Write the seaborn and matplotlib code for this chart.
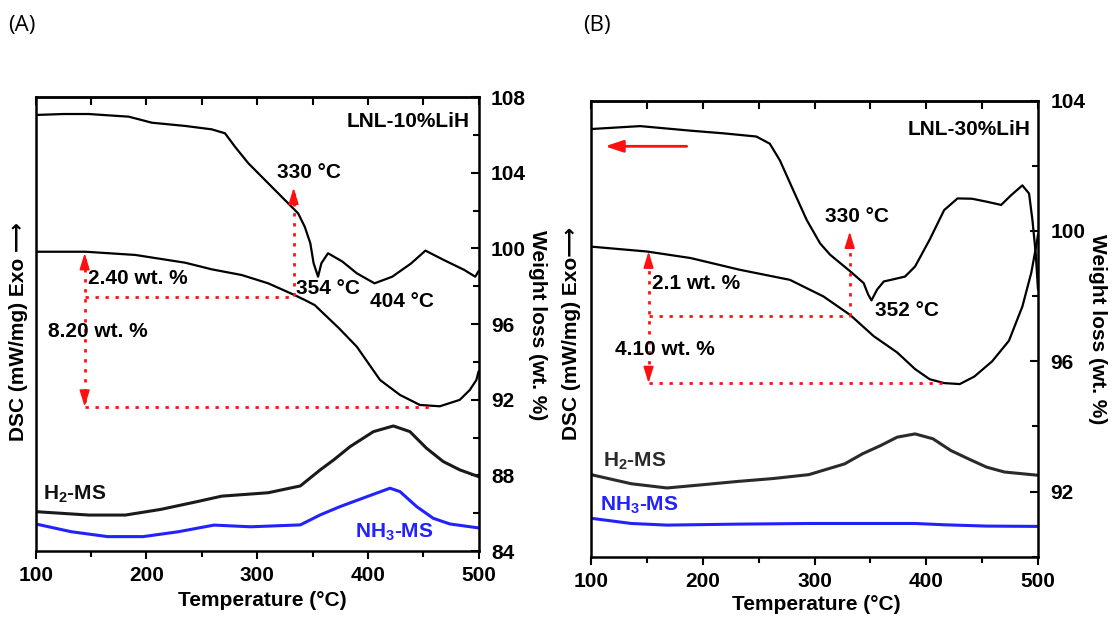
import matplotlib
matplotlib.use("Agg")
import matplotlib.pyplot as plt
import seaborn as sns
import pandas as pd
from matplotlib.ticker import MultipleLocator

# ---------------- data (panel A: LNL-10%LiH) ----------------
a_dsc_t = [100, 125, 148, 184, 205, 235, 259, 271, 280, 292, 310, 328, 337, 343, 348, 351,
           355, 358, 364, 377, 390, 406, 422, 439, 452, 468, 487, 497, 500]
a_dsc_v = [107.05, 107.10, 107.10, 106.96, 106.64, 106.47, 106.29, 106.08, 105.37, 104.50,
           103.44, 102.38, 101.85, 101.14, 100.27, 99.21, 98.50, 99.21, 99.74, 99.30, 98.68,
           98.15, 98.50, 99.20, 99.88, 99.40, 98.86, 98.50, 98.80]
a_tga_t = [100, 145, 190, 235, 259, 286, 310, 333, 343, 352, 374, 390, 411, 429, 447, 465,
           483, 492, 498, 500]
a_tga_v = [99.82, 99.82, 99.65, 99.24, 98.89, 98.59, 98.15, 97.55, 97.27, 97.00, 95.77, 94.80,
           93.04, 92.25, 91.72, 91.65, 91.99, 92.51, 93.04, 93.50]
a_h2_t = [100, 148, 181, 213, 245, 268, 310, 339, 357, 369, 384, 405, 423, 438, 453, 468, 483, 500]
a_h2_v = [86.08, 85.90, 85.90, 86.20, 86.60, 86.90, 87.08, 87.44, 88.29, 88.81, 89.52, 90.31,
          90.61, 90.31, 89.43, 88.73, 88.29, 87.93]
a_nh3_t = [100, 132, 165, 197, 229, 261, 294, 339, 357, 375, 399, 420, 429, 444, 459, 474, 500]
a_nh3_v = [85.43, 85.02, 84.76, 84.76, 85.02, 85.37, 85.28, 85.38, 85.91, 86.35, 86.87, 87.32,
           87.14, 86.35, 85.73, 85.43, 85.22]

# ---------------- data (panel B: LNL-30%LiH) ----------------
b_dsc_t = [100, 144, 189, 218, 248, 260, 269, 281, 293, 305, 314, 332, 344, 348, 351, 356, 362,
           371, 381, 390, 403, 416, 428, 441, 454, 467, 476, 486, 492, 495, 498, 500]
b_dsc_v = [103.13, 103.22, 103.08, 103.00, 102.90, 102.68, 102.17, 101.25, 100.34, 99.62, 99.27,
           98.76, 98.40, 98.05, 97.87, 98.20, 98.45, 98.52, 98.60, 98.91, 99.73, 100.64, 101.00,
           100.99, 100.90, 100.80, 101.10, 101.40, 101.15, 100.34, 99.30, 98.20]
b_tga_t = [100, 150, 189, 233, 278, 308, 332, 353, 374, 390, 403, 416, 430, 443, 459, 474,
           486, 494, 499, 500]
b_tga_v = [99.52, 99.37, 99.17, 98.81, 98.50, 97.99, 97.42, 96.77, 96.27, 95.76, 95.45, 95.33,
           95.30, 95.53, 96.00, 96.63, 97.68, 98.72, 99.66, 99.90]
b_h2_t = [100, 136, 168, 200, 231, 263, 295, 327, 343, 359, 374, 390, 406, 422, 438, 454, 470, 500]
b_h2_v = [92.52, 92.24, 92.11, 92.21, 92.31, 92.40, 92.52, 92.85, 93.16, 93.41, 93.67, 93.77,
          93.62, 93.26, 93.00, 92.75, 92.60, 92.50]
b_nh3_t = [100, 136, 168, 231, 295, 390, 416, 454, 500]
b_nh3_v = [91.18, 91.02, 90.97, 91.00, 91.02, 91.02, 90.98, 90.94, 90.93]

x_ticks = [100, 200, 300, 400, 500]

# ---------------- style ----------------
sns.set_theme(style="ticks")
plt.rcParams["font.family"] = ["Liberation Sans", "DejaVu Sans"]
plt.rcParams["font.weight"] = "bold"
plt.rcParams["axes.labelweight"] = "bold"
plt.rcParams["text.color"] = "black"
plt.rcParams["axes.labelcolor"] = "black"
plt.rcParams["xtick.color"] = "black"
plt.rcParams["ytick.color"] = "black"
plt.rcParams["mathtext.fontset"] = "custom"
plt.rcParams["mathtext.rm"] = "Liberation Sans:bold"
plt.rcParams["mathtext.it"] = "Liberation Sans:bold"
plt.rcParams["mathtext.bf"] = "Liberation Sans:bold"

W, H = 1114, 621
fig = plt.figure(figsize=(W / 100, H / 100), dpi=100)
fig.patch.set_facecolor("white")


def fx(px):
    return px / W


def fy(py):
    return 1 - py / H


axA = fig.add_axes([fx(35.7), fy(551), fx(478.6) - fx(35.7), fy(97) - fy(551)])
axB = fig.add_axes([fx(591), fy(556.7), fx(1038) - fx(591), fy(100.7) - fy(556.7)])

RED = "#ff1010"
BLUE = "#2222ff"
FS = 15


def line(ax, t, v, color, lw):
    df = pd.DataFrame({"T": t, "v": v})
    sns.lineplot(data=df, x="T", y="v", ax=ax, color=color, lw=lw, sort=False, estimator=None)


def style(ax, ylim, major):
    ax.set_xlim(100, 500)
    ax.set_ylim(*ylim)
    ax.set_xlabel("")
    ax.set_ylabel("")
    ax.set_xticks(x_ticks)
    ax.xaxis.set_minor_locator(MultipleLocator(50))
    ax.yaxis.set_major_locator(MultipleLocator(major))
    ax.yaxis.set_minor_locator(MultipleLocator(major / 2))
    ax.yaxis.tick_right()
    ax.tick_params(axis="x", which="major", direction="out", length=6, width=1.5,
                   labelsize=FS, pad=5, colors="black")
    ax.tick_params(axis="x", which="minor", direction="out", length=4, width=1.5)
    ax.tick_params(axis="y", which="major", direction="in", length=6, width=1.5,
                   labelsize=FS, pad=9, left=False, right=True, colors="black")
    ax.tick_params(axis="y", which="minor", direction="in", length=4, width=1.5,
                   left=False, right=True)
    for s in ax.spines.values():
        s.set_linewidth(1.8)
        s.set_color("black")
    sec = ax.secondary_xaxis("top")
    sec.set_xticks(list(range(100, 501, 50)))
    sec.tick_params(direction="in", length=6, width=1.5, labeltop=False)
    sec.spines["top"].set_linewidth(1.8)
    ax.grid(False)


def dotted(ax, xs, ys):
    ax.plot(xs, ys, color=RED, lw=2.0, linestyle=(0, (1.2, 2.4)), solid_capstyle="butt")


def head(ax, x, y, up=True):
    d = 0.4 if up else -0.4
    ax.annotate("", xy=(x, y), xytext=(x, y - d),
                arrowprops=dict(arrowstyle="-|>,head_length=0.9,head_width=0.28",
                                color=RED, lw=1.2, mutation_scale=11,
                                shrinkA=0, shrinkB=0))


# ---------------- panel A ----------------
line(axA, a_dsc_t, a_dsc_v, "black", 1.6)
line(axA, a_tga_t, a_tga_v, "black", 1.6)
line(axA, a_h2_t, a_h2_v, "#1a1a1a", 2.2)
line(axA, a_nh3_t, a_nh3_v, BLUE, 2.2)
style(axA, (84, 108), 4)

dotted(axA, [332.9, 332.9], [97.5, 102.9])
head(axA, 332.9, 103.2, True)
dotted(axA, [144.2, 332.9], [97.45, 97.45])
dotted(axA, [144.2, 144.2], [91.9, 99.5])
head(axA, 144.2, 99.75, True)
head(axA, 144.2, 91.63, False)
dotted(axA, [144.2, 459.7], [91.63, 91.63])

axA.text(492, 106.7, "LNL-10%LiH", ha="right", va="center", fontsize=FS)
axA.text(317.7, 104.0, "330 °C", ha="left", va="center", fontsize=FS)
axA.text(335.5, 97.9, "354 °C", ha="left", va="center", fontsize=FS)
axA.text(401.6, 97.17, "404 °C", ha="left", va="center", fontsize=FS)
axA.text(146.8, 98.4, "2.40 wt. %", ha="left", va="center", fontsize=FS)
axA.text(111.3, 95.58, "8.20 wt. %", ha="left", va="center", fontsize=FS)
axA.text(106.5, 87.0, "H$_2$-MS", ha="left", va="center", fontsize=FS, color="#111111")
axA.text(388.7, 84.97, "NH$_3$-MS", ha="left", va="center", fontsize=FS, color=BLUE)

# ---------------- panel B ----------------
line(axB, b_dsc_t, b_dsc_v, "black", 1.6)
line(axB, b_tga_t, b_tga_v, "black", 1.6)
line(axB, b_h2_t, b_h2_v, "#2a2a2a", 2.2)
line(axB, b_nh3_t, b_nh3_v, BLUE, 2.2)
style(axB, (90, 104), 4)

dotted(axB, [331.5, 331.5], [97.38, 99.7])
head(axB, 331.5, 99.98, True)
dotted(axB, [151.5, 331.5], [97.38, 97.38])
dotted(axB, [151.5, 151.5], [95.6, 99.1])
head(axB, 151.5, 99.37, True)
head(axB, 151.5, 95.33, False)
dotted(axB, [151.5, 414], [95.33, 95.33])
axB.annotate("", xy=(112.5, 102.6), xytext=(185.6, 102.6),
             arrowprops=dict(arrowstyle="-|>,head_length=0.9,head_width=0.3",
                             color=RED, lw=2.0, mutation_scale=12, shrinkA=0, shrinkB=0))

axB.text(493.7, 103.13, "LNL-30%LiH", ha="right", va="center", fontsize=FS)
axB.text(309.2, 100.44, "330 °C", ha="left", va="center", fontsize=FS)
axB.text(353.8, 97.57, "352 °C", ha="left", va="center", fontsize=FS)
axB.text(154.4, 98.38, "2.1 wt. %", ha="left", va="center", fontsize=FS)
axB.text(121.6, 96.37, "4.10 wt. %", ha="left", va="center", fontsize=FS)
axB.text(110.5, 92.93, "H$_2$-MS", ha="left", va="center", fontsize=FS, color="#2a2a2a")
axB.text(108, 91.58, "NH$_3$-MS", ha="left", va="center", fontsize=FS, color=BLUE)

# ---------------- axis titles ----------------
fig.text(fx(19), fy(332), "DSC (mW/mg) Exo ⟶", rotation=90, ha="center", va="center", fontsize=FS)
fig.text(fx(537), fy(325), "Weight loss (wt. %)", rotation=270, ha="center", va="center", fontsize=FS)
fig.text(fx(262), fy(600), "Temperature (°C)", ha="center", va="center", fontsize=FS)
fig.text(fx(571.5), fy(333), "DSC (mW/mg) Exo⟶", rotation=90, ha="center", va="center", fontsize=FS)
fig.text(fx(1097), fy(329), "Weight loss (wt. %)", rotation=270, ha="center", va="center", fontsize=FS)
fig.text(fx(816), fy(605), "Temperature (°C)", ha="center", va="center", fontsize=FS)

fig.text(fx(8), fy(25), "(A)", ha="left", va="center", fontsize=16, fontweight="normal",
         family=["Open Sans", "DejaVu Sans"])
fig.text(fx(583), fy(25), "(B)", ha="left", va="center", fontsize=16, fontweight="normal",
         family=["Open Sans", "DejaVu Sans"])

fig.savefig("out.png", dpi=100, facecolor="white")
